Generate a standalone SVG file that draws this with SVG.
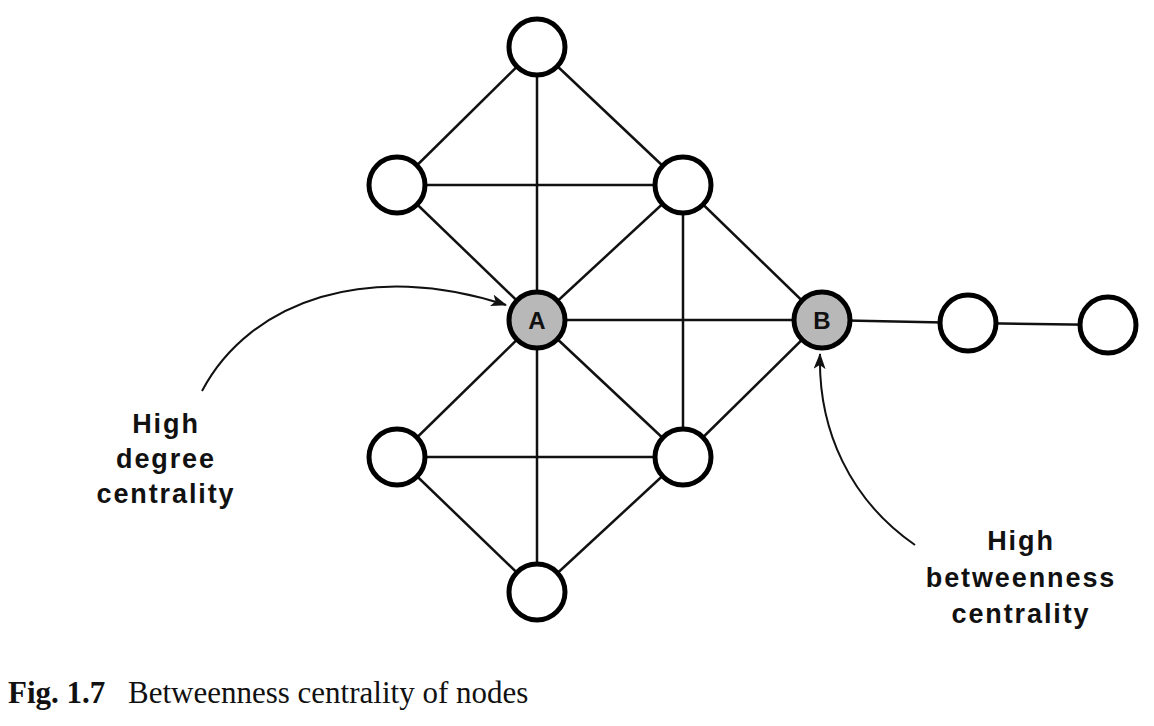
<svg xmlns="http://www.w3.org/2000/svg" width="1154" height="726" viewBox="0 0 1154 726">
<style>
.edge{stroke:#111;stroke-width:2.5;fill:none}
.node{fill:#fff;stroke:#000;stroke-width:5}
.hub{fill:#b8b8b8;stroke:#000;stroke-width:5}
.lbl{font-family:"Liberation Sans",Arial,sans-serif;font-weight:bold;font-size:24px;fill:#111;text-anchor:middle}
.note{font-family:"Liberation Sans",Arial,sans-serif;font-weight:bold;font-size:27px;letter-spacing:1.9px;fill:#111;text-anchor:middle}
.call{stroke:#111;stroke-width:2;fill:none;marker-end:url(#ah)}
.cap{font-family:"Liberation Serif","Times New Roman",serif;font-size:31px;fill:#111}
</style>
<defs>
<marker id="ah" markerWidth="16" markerHeight="12" refX="15" refY="6" orient="auto" markerUnits="userSpaceOnUse">
<path d="M0,0 L16,6 L0,12 L4,6 Z" fill="#111"/>
</marker>
</defs>
<rect width="1154" height="726" fill="#fff"/>
<g id="connectors">
<line class="edge" x1="537" y1="47" x2="397" y2="185"/>
<line class="edge" x1="537" y1="47" x2="537" y2="592"/>
<line class="edge" x1="537" y1="47" x2="683" y2="185"/>
<line class="edge" x1="397" y1="185" x2="683" y2="185"/>
<line class="edge" x1="397" y1="185" x2="537" y2="320"/>
<line class="edge" x1="683" y1="185" x2="537" y2="320"/>
<line class="edge" x1="683" y1="185" x2="822" y2="320"/>
<line class="edge" x1="683" y1="185" x2="683" y2="457"/>
<line class="edge" x1="537" y1="320" x2="822" y2="320"/>
<line class="edge" x1="537" y1="320" x2="397" y2="457"/>
<line class="edge" x1="537" y1="320" x2="683" y2="457"/>
<line class="edge" x1="397" y1="457" x2="683" y2="457"/>
<line class="edge" x1="397" y1="457" x2="537" y2="592"/>
<line class="edge" x1="683" y1="457" x2="537" y2="592"/>
<line class="edge" x1="683" y1="457" x2="822" y2="320"/>
<line class="edge" x1="822" y1="320" x2="968" y2="323"/>
<line class="edge" x1="968" y1="323" x2="1108" y2="325"/>
<path class="call" d="M202,391 C250,300 370,260 506,305"/>
<path class="call" d="M915,545 C850,500 818,430 820,354"/>
</g>
<g id="n-top"><circle class="node" cx="537" cy="47" r="28"/></g>
<g id="n-ul"><circle class="node" cx="397" cy="185" r="28"/></g>
<g id="n-ur"><circle class="node" cx="683" cy="185" r="28"/></g>
<g id="n-a"><circle class="hub" cx="537" cy="320" r="28"/><text class="lbl" x="537" y="329">A</text></g>
<g id="n-b"><circle class="hub" cx="822" cy="320" r="28"/><text class="lbl" x="822" y="329">B</text></g>
<g id="n-r1"><circle class="node" cx="968" cy="323" r="28"/></g>
<g id="n-r2"><circle class="node" cx="1108" cy="325" r="28"/></g>
<g id="n-ll"><circle class="node" cx="397" cy="457" r="28"/></g>
<g id="n-lr"><circle class="node" cx="683" cy="457" r="28"/></g>
<g id="n-bot"><circle class="node" cx="537" cy="592" r="28"/></g>
<g id="label-degree">
<text class="note" x="166" y="433">High</text>
<text class="note" x="166" y="468">degree</text>
<text class="note" x="166" y="503">centrality</text>
</g>
<g id="label-betweenness">
<text class="note" x="1021" y="550">High</text>
<text class="note" x="1021" y="587">betweenness</text>
<text class="note" x="1021" y="623">centrality</text>
</g>
<text class="cap" x="8" y="703"><tspan font-weight="bold">Fig. 1.7</tspan><tspan x="128">Betweenness centrality of nodes</tspan></text>
</svg>
